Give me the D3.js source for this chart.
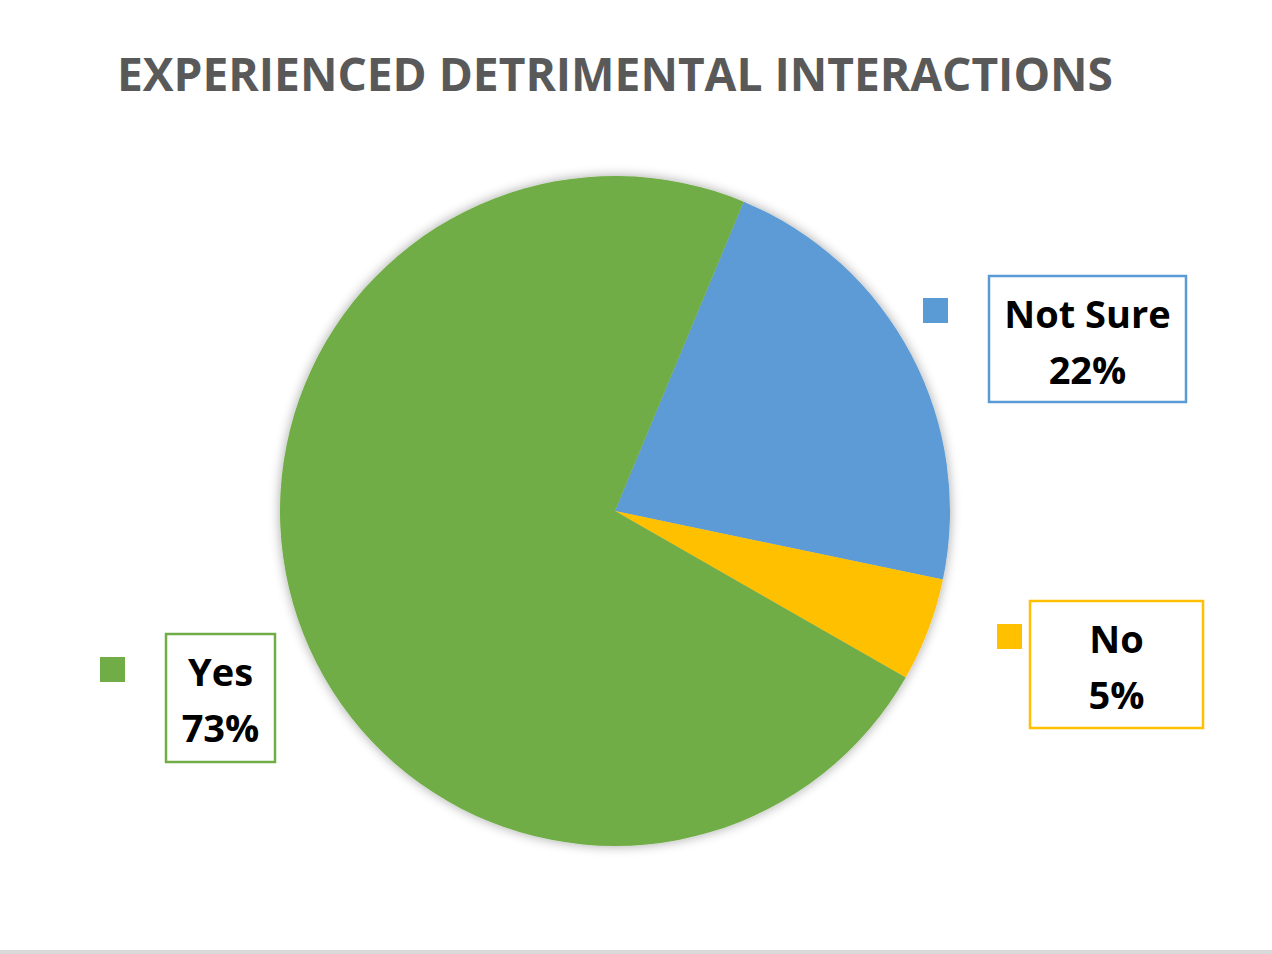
<!DOCTYPE html>
<html><head><meta charset="utf-8">
<script src="https://cdn.jsdelivr.net/npm/d3@7"></script>
<style>html,body{margin:0;padding:0;background:#fff;}</style>
</head><body>
<script>
const categories = ["Not Sure", "No", "Yes"];
const values = [22, 5, 73];
const colors = ["#5B9BD5", "#FFC000", "#70AD47"];
const title = "EXPERIENCED DETRIMENTAL INTERACTIONS";

const W = 1272, H = 954;
const svg = d3.select("body").append("svg").attr("width", W).attr("height", H);
svg.append("rect").attr("width", W).attr("height", H).attr("fill", "#fff");
svg.append("rect").attr("x", 0).attr("y", 950).attr("width", W).attr("height", 4).attr("fill", "#d9d9d9");

const defs = svg.append("defs");
const f = defs.append("filter").attr("id", "sh").attr("x", "-20%").attr("y", "-20%").attr("width", "140%").attr("height", "140%");
f.append("feGaussianBlur").attr("in", "SourceAlpha").attr("stdDeviation", 6).attr("result", "b");
f.append("feOffset").attr("in", "b").attr("dx", 0).attr("dy", 0).attr("result", "o");
f.append("feComponentTransfer").attr("in", "o").attr("result", "o2").append("feFuncA").attr("type", "linear").attr("slope", 0.35);
const m = f.append("feMerge"); m.append("feMergeNode").attr("in", "o2"); m.append("feMergeNode").attr("in", "SourceGraphic");

svg.append("text").attr("x", 615).attr("y", 91).attr("text-anchor", "middle")
  .attr("font-family", "'Open Sans', 'DejaVu Sans', sans-serif").attr("font-weight", "bold")
  .attr("font-size", 46).attr("fill", "#595959")
  .attr("textLength", 996).attr("lengthAdjust", "spacingAndGlyphs").text(title);

const cx = 615, cy = 511, R = 335;
const startDeg = 22.6;
const pie = d3.pie().sort(null).value(d => d)
  .startAngle(startDeg * Math.PI / 180).endAngle((startDeg + 360) * Math.PI / 180);
const arc = d3.arc().innerRadius(0).outerRadius(R);
const g = svg.append("g").attr("transform", `translate(${cx},${cy})`).attr("filter", "url(#sh)");
g.selectAll("path").data(pie(values)).join("path")
  .attr("d", arc).attr("fill", (d, i) => colors[i]);

// labels
const boxes = [
  {x: 989, y: 276, w: 197, h: 126, mx: 923, my: 298},
  {x: 1030, y: 601, w: 173, h: 127, mx: 997, my: 624},
  {x: 166, y: 634, w: 109, h: 128, mx: 100, my: 657}
];
const total = d3.sum(values);
categories.forEach((c, i) => {
  const b = boxes[i];
  svg.append("rect").attr("x", b.mx).attr("y", b.my).attr("width", 25).attr("height", 25).attr("fill", colors[i]);
  svg.append("rect").attr("x", b.x).attr("y", b.y).attr("width", b.w).attr("height", b.h)
    .attr("fill", "#fff").attr("stroke", colors[i]).attr("stroke-width", 2.5);
  const t = svg.append("text").attr("text-anchor", "middle")
    .attr("font-family", "'Open Sans', 'DejaVu Sans', sans-serif").attr("font-weight", "bold")
    .attr("font-size", 38).attr("fill", "#000");
  t.append("tspan").attr("x", b.x + b.w / 2).attr("y", b.y + 52).text(c);
  t.append("tspan").attr("x", b.x + b.w / 2).attr("y", b.y + 108).text(Math.round(values[i] / total * 100) + "%");
});
</script>
</body></html>
